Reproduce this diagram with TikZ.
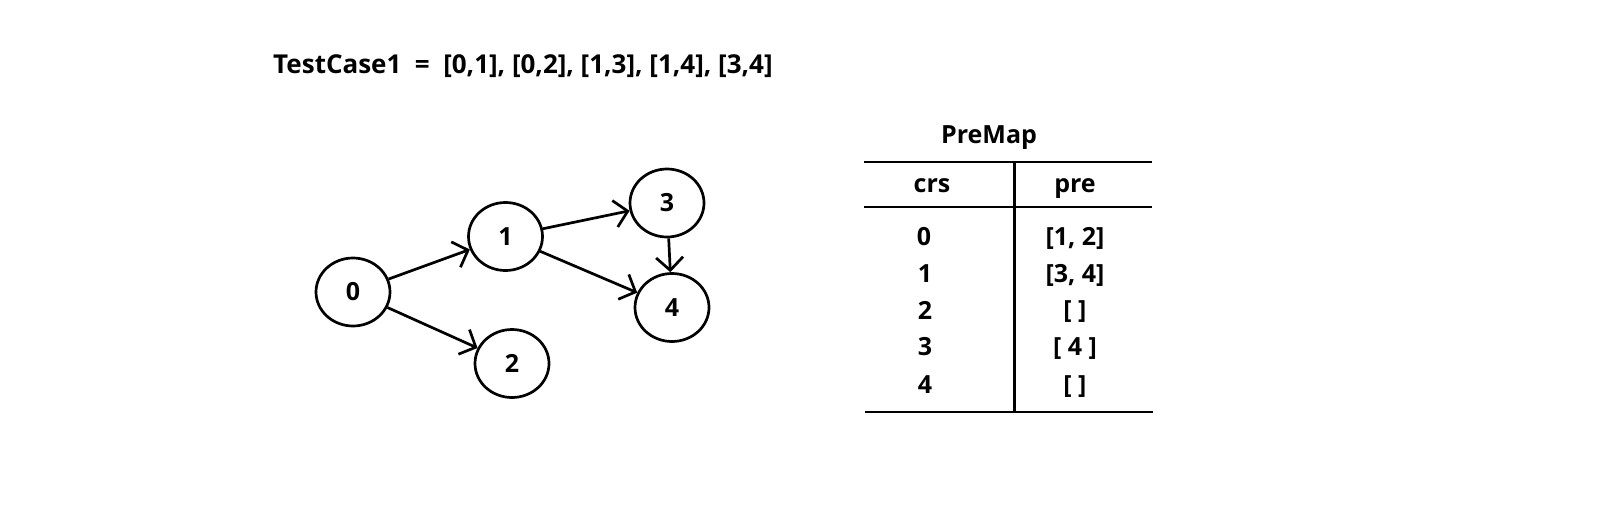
\documentclass[tikz,border=0pt]{standalone}
\usepackage{fontspec}
\setmainfont{Open Sans}
\usetikzlibrary{arrows.meta,shapes.geometric}
\begin{document}
\begin{tikzpicture}[x=1pt,y=-1pt,
  vert/.style={draw,ellipse,line width=2.7pt,minimum width=74pt,minimum height=68pt,inner sep=0pt,font=\fontsize{25}{29}\selectfont\bfseries},
  edge/.style={line width=2.7pt,-{Straight Barb[length=13pt,width=27pt]}},
  rule/.style={line width=2.8pt},
  txt/.style={font=\fontsize{25}{29}\selectfont\bfseries,inner sep=0pt}]
\useasboundingbox (0,0) rectangle (1611,523);
\node[txt,anchor=base west,font=\fontsize{26}{30}\selectfont\bfseries] (title) at (273,73) {TestCase1\ \ =\ \ [0,1],\ [0,2],\ [1,3],\ [1,4],\ [3,4]};
\node[vert] (n0) at (353,292) {0};
\node[vert] (n1) at (505.5,236.5) {1};
\node[vert] (n2) at (512,363.5) {2};
\node[vert] (n3) at (667,203) {3};
\node[vert] (n4) at (672,307.5) {4};
\draw[edge] (n0) -- (n1);
\draw[edge] (n0) -- (n2);
\draw[edge] (n1) -- (n3);
\draw[edge] (n1) -- (n4);
\draw[edge] (n3) -- (n4);
% table
\node[txt,anchor=base] (pm) at (989,143) {PreMap};
\coordinate (tl) at (864,162);
\coordinate (tr) at (1152,162);
\coordinate (hl) at (864,207);
\coordinate (hr) at (1152,207);
\coordinate (bl) at (865,412);
\coordinate (br) at (1153,412);
\coordinate (vt) at (1014.5,162);
\coordinate (vb) at (1014.5,412);
\draw[rule] (tl) -- (tr);
\draw[rule] (hl) -- (hr);
\draw[rule] (bl) -- (br);
\draw[rule] (vt) -- (vb);
\node[txt,anchor=base] (hc) at (932,192) {crs};
\node[txt,anchor=base] (hp) at (1075,192) {pre};
\node[txt] (c0) at (924,236.7) {0};
\node[txt] (c1) at (925,273.3) {1};
\node[txt] (c2) at (925,310) {2};
\node[txt] (c3) at (925,346.7) {3};
\node[txt] (c4) at (925,384.3) {4};
\node[txt,anchor=base] (p0) at (1075,245.5) {[1, 2]};
\node[txt,anchor=base] (p1) at (1075,282.2) {[3, 4]};
\node[txt,anchor=base] (p2) at (1075,318.8) {[ ]};
\node[txt,anchor=base] (p3) at (1075,355.5) {[ 4 ]};
\node[txt,anchor=base] (p4) at (1075,393.2) {[ ]};
\end{tikzpicture}
\end{document}
